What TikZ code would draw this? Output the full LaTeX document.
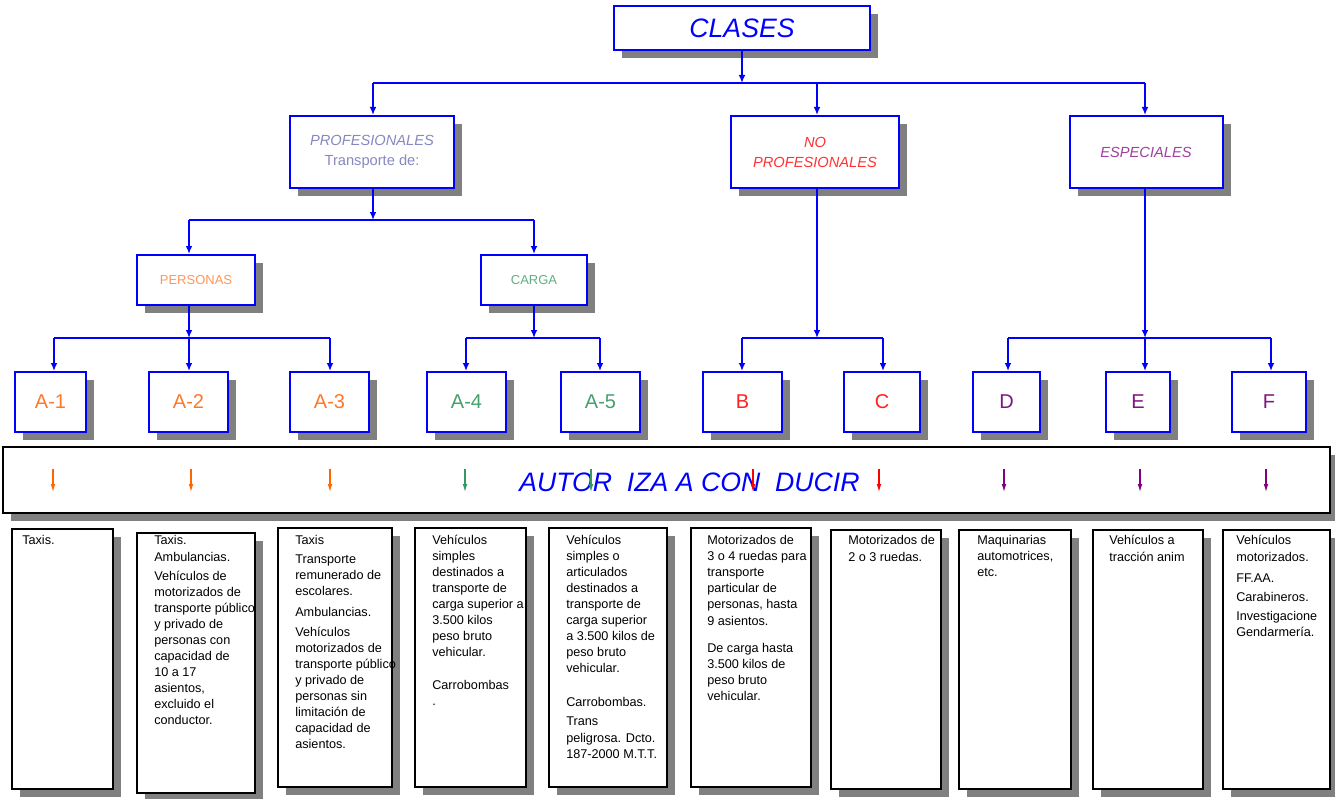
\documentclass[tikz,border=0pt]{standalone}
\usepackage{fontspec}
\setmainfont{Liberation Sans}
\usetikzlibrary{arrows.meta,shadows}
\definecolor{shadowgray}{RGB}{128,128,128}
\definecolor{cblue}{RGB}{0,0,255}
\definecolor{cprof}{RGB}{136,136,192}
\definecolor{cnop}{RGB}{255,51,51}
\definecolor{cesp}{RGB}{160,64,160}
\definecolor{cpers}{RGB}{255,150,90}
\definecolor{ccarga}{RGB}{96,176,128}
\definecolor{corange}{RGB}{255,120,40}
\definecolor{cgreen}{RGB}{70,160,110}
\definecolor{cred}{RGB}{255,32,32}
\definecolor{cpurple}{RGB}{128,20,128}
\definecolor{aorange}{RGB}{255,102,0}
\definecolor{agreen}{RGB}{51,153,102}
\definecolor{ared}{RGB}{255,0,0}
\definecolor{apurple}{RGB}{128,0,128}
\begin{document}
\begin{tikzpicture}[x=0.75pt,y=-0.75pt,
  wh/.style 2 args={minimum width=#1*0.75pt,minimum height=#2*0.75pt},
  shad/.style={drop shadow={shadow xshift=6pt,shadow yshift=-6pt,fill=shadowgray,opacity=1}},
  bluebox/.style={draw=cblue,line width=1.5pt,fill=white,inner sep=0pt,shad,align=center},
  blackbox/.style={draw=black,line width=1.5pt,fill=white,inner sep=0pt,shad},
  conn/.style={draw=cblue,line width=1.1pt,-{Latex[length=6pt,width=5pt]}},
  busline/.style={draw=cblue,line width=1.1pt},
  txt/.style={anchor=north west,inner sep=0pt,align=left,font=\fontsize{9.5pt}{12pt}\selectfont},
  smallarrow/.style={line width=0.8pt,-{Latex[length=6pt,width=3.5pt]}},
  bigletter/.style={font=\fontsize{15pt}{17pt}\selectfont}
]
\useasboundingbox (0,0) rectangle (1335,799);

% ---------- top level ----------
\node[bluebox,wh={256}{44},font=\fontsize{20pt}{24pt}\selectfont\itshape,text=cblue] (clases) at (742,28) {CLASES};

\node[bluebox,wh={164}{72},font=\fontsize{11pt}{15pt}\selectfont,text=cprof] (prof) at (372,152) {{\itshape PROFESIONALES}\\Transporte de:};
\node[bluebox,wh={168}{72},font=\fontsize{11pt}{15pt}\selectfont\itshape,text=cnop] (nop) at (815,152) {NO\\PROFESIONALES};
\node[bluebox,wh={153}{72},font=\fontsize{11pt}{15pt}\selectfont\itshape,text=cesp] (esp) at (1146,152) {ESPECIALES};

\node[bluebox,wh={118}{50},font=\fontsize{9.75pt}{12pt}\selectfont,text=cpers] (pers) at (196,280) {PERSONAS};
\node[bluebox,wh={106}{50},font=\fontsize{9.75pt}{12pt}\selectfont,text=ccarga] (carga) at (534,280) {CARGA};

% ---------- class boxes ----------
\node[bluebox,wh={71}{60},bigletter,text=corange] (a1) at (50.5,402) {A-1};
\node[bluebox,wh={79}{60},bigletter,text=corange] (a2) at (188.5,402) {A-2};
\node[bluebox,wh={79}{60},bigletter,text=corange] (a3) at (329.5,402) {A-3};
\node[bluebox,wh={79}{60},bigletter,text=cgreen] (a4) at (466.5,402) {A-4};
\node[bluebox,wh={79}{60},bigletter,text=cgreen] (a5) at (600.5,402) {A-5};
\node[bluebox,wh={79}{60},bigletter,text=cred] (b) at (742.5,402) {B};
\node[bluebox,wh={76}{60},bigletter,text=cred] (c) at (882,402) {C};
\node[bluebox,wh={67}{60},bigletter,text=cpurple] (d) at (1006.5,402) {D};
\node[bluebox,wh={64}{60},bigletter,text=cpurple] (e) at (1138,402) {E};
\node[bluebox,wh={74}{60},bigletter,text=cpurple] (f) at (1269,402) {F};

% ---------- connectors: CLASES ----------
\coordinate (j0) at (742,83);
\coordinate (dprof) at (373,83);
\coordinate (dnop) at (817,83);
\coordinate (desp) at (1145,83);
\draw[busline] (dprof) -- (desp);
\draw[conn] (clases.south) -- (j0);
\draw[conn] (dprof) -- (dprof |- prof.north);
\draw[conn] (dnop) -- (dnop |- nop.north);
\draw[conn] (desp) -- (desp |- esp.north);

% PROFESIONALES
\coordinate (j1) at (373,220);
\coordinate (dpers) at (189,220);
\coordinate (dcarga) at (534,220);
\draw[busline] (dpers) -- (dcarga);
\draw[conn] (j1 |- prof.south) -- (j1);
\draw[conn] (dpers) -- (dpers |- pers.north);
\draw[conn] (dcarga) -- (dcarga |- carga.north);

% PERSONAS
\coordinate (j2) at (189,338);
\coordinate (da1) at (54,338);
\coordinate (da2) at (189,338);
\coordinate (da3) at (330,338);
\draw[busline] (da1) -- (da3);
\draw[conn] (j2 |- pers.south) -- (j2);
\draw[conn] (da1) -- (da1 |- a1.north);
\draw[conn] (da2) -- (da2 |- a2.north);
\draw[conn] (da3) -- (da3 |- a3.north);

% CARGA
\coordinate (j3) at (534,338);
\coordinate (da4) at (466,338);
\coordinate (da5) at (600,338);
\draw[busline] (da4) -- (da5);
\draw[conn] (j3 |- carga.south) -- (j3);
\draw[conn] (da4) -- (da4 |- a4.north);
\draw[conn] (da5) -- (da5 |- a5.north);

% NO PROFESIONALES
\coordinate (j4) at (817,338);
\coordinate (db) at (742,338);
\coordinate (dc) at (883,338);
\draw[busline] (db) -- (dc);
\draw[conn] (j4 |- nop.south) -- (j4);
\draw[conn] (db) -- (db |- b.north);
\draw[conn] (dc) -- (dc |- c.north);

% ESPECIALES
\coordinate (j5) at (1145,338);
\coordinate (dd) at (1008,338);
\coordinate (de) at (1145,338);
\coordinate (df) at (1271,338);
\draw[busline] (dd) -- (df);
\draw[conn] (j5 |- esp.south) -- (j5);
\draw[conn] (dd) -- (dd |- d.north);
\draw[conn] (de) -- (de |- e.north);
\draw[conn] (df) -- (df |- f.north);

% ---------- banner ----------
\node[blackbox,wh={1327}{66}] (banner) at (666.5,480) {};
\foreach \x [count=\i] in {53,191,330,465,591,753,879,1004,1140,1266}{
  \coordinate (s\i) at (\x,469);
  \coordinate (e\i) at (\x,492);
}
\node[anchor=west,inner sep=0pt,text=cblue,font=\fontsize{20pt}{24pt}\selectfont\itshape] (autoriza) at (519,482) {AUTOR\ \ IZA A CON\ \ DUCIR};
\foreach \i/\col in {1/aorange,2/aorange,3/aorange,4/agreen,5/agreen,6/ared,7/ared,8/apurple,9/apurple,10/apurple}{
  \draw[smallarrow,\col] (s\i) -- (e\i);
}

% ---------- bottom boxes ----------
\node[blackbox,wh={101}{260}] (t1) at (62.5,659) {};
\node[blackbox,wh={118}{260}] (t2) at (196,663) {};
\node[blackbox,wh={114}{259}] (t3) at (335,657.5) {};
\node[blackbox,wh={111}{259}] (t4) at (470.5,657.5) {};
\node[blackbox,wh={118}{259}] (t5) at (608,657.5) {};
\node[blackbox,wh={120}{259}] (t6) at (751,657.5) {};
\node[blackbox,wh={110}{259}] (t7) at (886,659.5) {};
\node[blackbox,wh={112}{259}] (t8) at (1015,659.5) {};
\node[blackbox,wh={110}{259}] (t9) at (1148,659.5) {};
\node[blackbox,wh={107}{259}] (t10) at (1276.5,659.5) {};

\node[txt] (x1) at (22,533.5) {\strut Taxis.};
\node[txt] (x2) at (154,533.5) {\strut Taxis.\\[0.75pt] Ambulancias.\\[2.25pt] Vehículos de\\ motorizados de\\ transporte público\\ y privado de\\ personas con\\ capacidad de\\ 10 a 17\\ asientos,\\ excluido el\\ conductor.};
\node[txt] (x3) at (295,533.5) {\strut Taxis\\[2.25pt] Transporte\\ remunerado de\\ escolares.\\[3.75pt] Ambulancias.\\[3pt] Vehículos\\ motorizados de\\ transporte público\\ y privado de\\ personas sin\\ limitación de\\ capacidad de\\ asientos.};
\node[txt] (x4) at (432,533.5) {\strut Vehículos\\ simples\\ destinados a\\ transporte de\\ carga superior a\\ 3.500 kilos\\ peso bruto\\ vehicular.\\[12.75pt] Carrobombas\\ .};
\node[txt] (x5) at (566,533.5) {\strut Vehículos\\ simples o\\ articulados\\ destinados a\\ transporte de\\ carga superior\\ a 3.500 kilos de\\ peso bruto\\ vehicular.\\[13.5pt] Carrobombas.\\[2.25pt] Trans\\[0.75pt] peligrosa. Dcto.\\ 187-2000 M.T.T.};
\node[txt] (x6) at (707,533.5) {\strut Motorizados de\\ 3 o 4 ruedas para\\ transporte\\ particular de\\ personas, hasta\\[0.75pt] 9 asientos.\\[8.25pt] De carga hasta\\ 3.500 kilos de\\ peso bruto\\ vehicular.};
\node[txt] (x7) at (848,533.5) {\strut Motorizados de\\[0.75pt] 2 o 3 ruedas.};
\node[txt] (x8) at (977,533.5) {\strut Maquinarias\\ automotrices,\\ etc.};
\node[txt] (x9) at (1109,533.5) {\strut Vehículos a\\[0.75pt] tracción anim};
\node[txt] (x10) at (1236,533.5) {\strut Vehículos\\[0.75pt] motorizados.\\[3.75pt] FF.AA.\\[2.25pt] Carabineros.\\[2.25pt] Investigacione\\ Gendarmería.};
\end{tikzpicture}
\end{document}
